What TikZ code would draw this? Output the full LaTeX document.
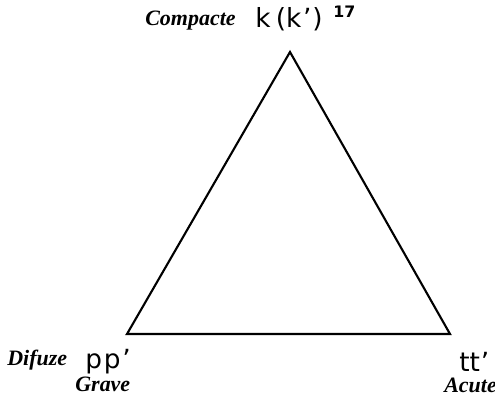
\documentclass[tikz,border=0pt]{standalone}
\usepackage{fontspec}
\setmainfont{Liberation Serif}
\setsansfont{DejaVu Sans}
\usepackage{tikz}
\usetikzlibrary{positioning, calc}

\begin{document}
\begin{tikzpicture}[
    x=0.02cm, y=-0.02cm,
    feature/.style={font=\rmfamily\bfseries\itshape\fontsize{12.5}{14}\selectfont, inner sep=0pt},
    phon/.style={font=\sffamily\fontsize{15}{17}\selectfont, inner sep=0pt}
  ]
  \useasboundingbox (0,0) rectangle (495,398);
  % triangle corners
  \coordinate (top) at (290,52);
  \coordinate (left) at (127,334);
  \coordinate (right) at (450,334);
  \draw[line width=1.2pt, line join=miter] (top) -- (left) -- (right) -- cycle;

  % labels
  \node (compact) [feature, anchor=base west] at (145,26) {Compacte};
  \node (kk) [phon, anchor=base west] at (255,28) {k\kern3pt(k\kern1pt'\kern0.5pt)};
  \node (note) [phon, anchor=base west, font=\sffamily\bfseries\fontsize{9}{10}\selectfont] at (333,18) {17};
  \node (difuze) [feature, anchor=base west] at (7,366) {Difuze};
  \node (pp) [phon, anchor=base west] at (85,369) {p\kern1pt p\kern1pt'};
  \node (grave) [feature, anchor=base west] at (75,392) {Grave};
  \node (tt) [phon, anchor=base west] at (459,372) {tt\kern0.5pt'};
  \node (acute) [feature, anchor=base west] at (444,393) {Acute};
\end{tikzpicture}
\end{document}
